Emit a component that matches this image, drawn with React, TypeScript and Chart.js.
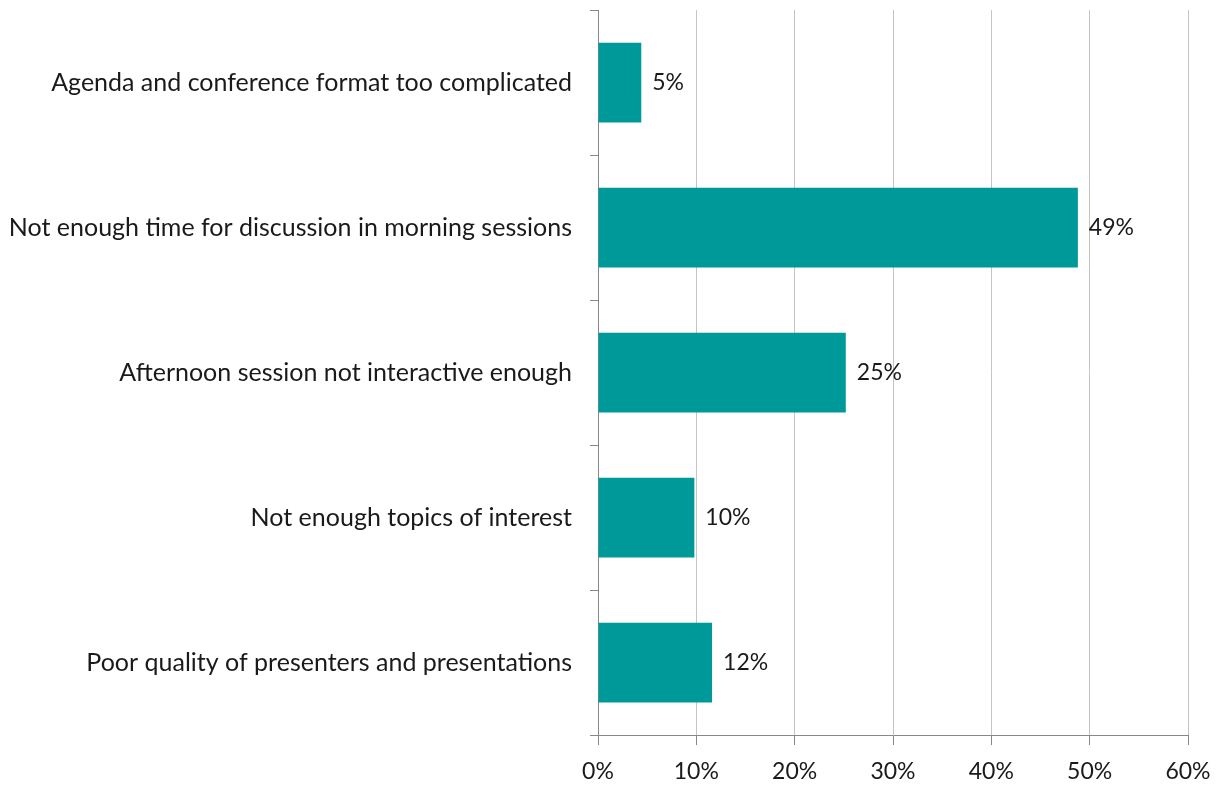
import React, { useEffect, useRef } from "react";
import { Chart, registerables } from "chart.js";

Chart.register(...registerables);

const categories = [
  "Agenda and conference format too complicated",
  "Not enough time for discussion in morning sessions",
  "Afternoon session not interactive enough",
  "Not enough topics of interest",
  "Poor quality of presenters and presentations",
];
const values = [4.4, 48.8, 25.2, 9.8, 11.6];
const valueLabels = ["5%", "49%", "25%", "10%", "12%"];
const xTicks = [0, 10, 20, 30, 40, 50, 60];

const FONT = "Lato, 'Open Sans', sans-serif";

const labelPlugin = {
  id: "barLabels",
  afterDatasetsDraw(chart: any) {
    const ctx = chart.ctx;
    const meta = chart.getDatasetMeta(0);
    ctx.save();
    ctx.font = `23px ${FONT}`;
    ctx.fillStyle = "#1a1a1a";
    ctx.textAlign = "left";
    ctx.textBaseline = "middle";
    meta.data.forEach((bar: any, i: number) => {
      ctx.fillText(valueLabels[i], bar.x + 11, bar.y);
    });
    ctx.restore();
  },
};

export default function App() {
  const ref = useRef<HTMLCanvasElement | null>(null);
  useEffect(() => {
    if (!ref.current) return;
    const chart = new Chart(ref.current, {
      type: "bar",
      data: {
        labels: categories,
        datasets: [
          {
            data: values,
            backgroundColor: "#009999",
            barPercentage: 0.55,
            categoryPercentage: 1,
          },
        ],
      },
      options: {
        indexAxis: "y",
        animation: false,
        responsive: false,
        maintainAspectRatio: false,
        layout: { padding: { top: 10, right: 37, left: 0, bottom: 0 } },
        plugins: { legend: { display: false }, tooltip: { enabled: false } },
        scales: {
          x: {
            min: 0,
            max: 60,
            afterBuildTicks(scale: any) {
              scale.ticks = xTicks.map((v) => ({ value: v }));
            },
            afterFit(scale: any) {
              scale.height = 50;
              scale.paddingLeft = 0;
              scale.paddingRight = 0;
            },
            ticks: {
              callback: (v: any) => `${v}%`,
              color: "#1a1a1a",
              font: { family: FONT, size: 23 },
              padding: 13,
              maxRotation: 0,
            },
            grid: { color: "#c4c4c4", tickLength: 10, tickColor: "#888" },
            border: { color: "#888" },
          },
          y: {
            afterFit(scale: any) {
              scale.width = 598;
              scale.paddingTop = 0;
              scale.paddingBottom = 0;
            },
            ticks: {
              color: "#1a1a1a",
              font: { family: FONT, size: 25 },
              padding: 18,
            },
            grid: {
              offset: true,
              drawOnChartArea: false,
              drawTicks: true,
              tickLength: 8,
              color: "#888",
            },
            border: { color: "#888" },
          },
        },
      },
      plugins: [labelPlugin],
    });
    return () => chart.destroy();
  }, []);
  return (
    <div style={{ position: "fixed", left: 0, top: 0, width: 1225, height: 785, background: "#fff" }}>
      <canvas ref={ref} width={1225} height={785} style={{ display: "block" }} />
    </div>
  );
}
